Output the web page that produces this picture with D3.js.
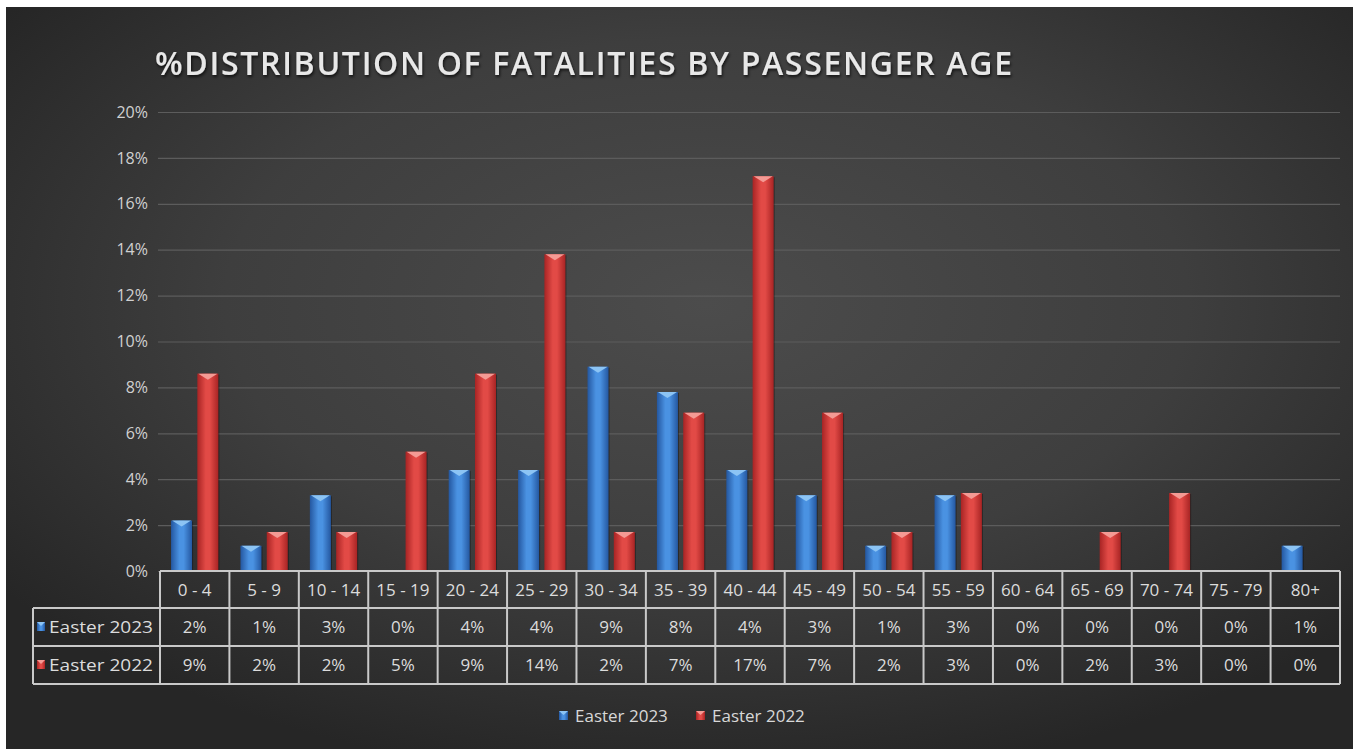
<!DOCTYPE html>
<html>
<head>
<meta charset="utf-8">
<script src="https://cdn.jsdelivr.net/npm/d3@7"></script>
<style>
	body { margin: 0; background: #fff; }
	svg { display: block; }
	text { font-family: "Open Sans", Roboto, sans-serif; }
</style>
</head>
<body>
<svg id="chart"></svg>
<script>
// chart data
const ageGroups = ["0 - 4", "5 - 9", "10 - 14", "15 - 19", "20 - 24", "25 - 29", "30 - 34", "35 - 39",
	"40 - 44", "45 - 49", "50 - 54", "55 - 59", "60 - 64", "65 - 69", "70 - 74", "75 - 79", "80+"];
const seriesNames = ["Easter 2023", "Easter 2022"];
const easter2023 = [2.2, 1.1, 3.3, 0, 4.4, 4.4, 8.9, 7.8, 4.4, 3.3, 1.1, 3.3, 0, 0, 0, 0, 1.1];
const easter2022 = [8.6, 1.7, 1.7, 5.2, 8.6, 13.8, 1.7, 6.9, 17.2, 6.9, 1.7, 3.4, 0, 1.7, 3.4, 0, 0];
const yTicks = [0, 2, 4, 6, 8, 10, 12, 14, 16, 18, 20];
const chartTitle = "%DISTRIBUTION OF FATALITIES BY PASSENGER AGE";

const W = 1357, H = 749;
const plot = { left: 160, right: 1340, top: 112, bottom: 571 };
const rowH = [37, 38, 38];
const palette = {
	"Easter 2023": { edge: "#2457a0", mid: "#4a92e2", cap: "#8cc4f4" },
	"Easter 2022": { edge: "#a82424", mid: "#e24a46", cap: "#f49a94" }
};
const textColor = "#dcdcdc";

const svg = d3.select("#chart").attr("width", W).attr("height", H);
const defs = svg.append("defs");

// background gradient
const bg = defs.append("radialGradient").attr("id", "bg")
	.attr("cx", "52%").attr("cy", "40%").attr("r", "65%");
bg.append("stop").attr("offset", "0%").attr("stop-color", "#4c4c4c");
bg.append("stop").attr("offset", "55%").attr("stop-color", "#3e3e3e");
bg.append("stop").attr("offset", "100%").attr("stop-color", "#262626");

seriesNames.forEach((s, i) => {
	const g = defs.append("linearGradient").attr("id", "bar" + i)
		.attr("x1", "0%").attr("x2", "100%").attr("y1", "0%").attr("y2", "0%");
	g.append("stop").attr("offset", "0%").attr("stop-color", palette[s].edge);
	g.append("stop").attr("offset", "40%").attr("stop-color", palette[s].mid);
	g.append("stop").attr("offset", "60%").attr("stop-color", palette[s].mid);
	g.append("stop").attr("offset", "100%").attr("stop-color", palette[s].edge);
});

const shadow = defs.append("filter").attr("id", "shadow")
	.attr("x", "-5%").attr("y", "-20%").attr("width", "110%").attr("height", "150%");
shadow.append("feDropShadow").attr("dx", 1).attr("dy", 2).attr("stdDeviation", 1.5)
	.attr("flood-color", "#000").attr("flood-opacity", 0.7);

svg.append("rect").attr("x", 6).attr("y", 7).attr("width", W - 10).attr("height", H - 7)
	.attr("fill", "url(#bg)");

// title
svg.append("text")
	.attr("x", 155).attr("y", 75)
	.attr("textLength", 857).attr("lengthAdjust", "spacing")
	.style("font-size", "32px").style("font-weight", 600)
	.style("fill", "#e8e8e8").attr("filter", "url(#shadow)")
	.text(chartTitle);

// scales
const x = d3.scaleBand().domain(ageGroups).range([plot.left, plot.right]);
const x1 = d3.scaleBand().domain(seriesNames).range([0, x.bandwidth()])
	.paddingInner(0.2).paddingOuter(0.42);
const y = d3.scaleLinear().domain([0, 20]).range([plot.bottom, plot.top]);

// y axis + gridlines
const yAxis = svg.append("g")
	.attr("transform", `translate(158,0)`)
	.call(d3.axisLeft(y).tickValues(yTicks).tickSize(-(plot.right - 158)).tickPadding(10)
		.tickFormat(d => d + "%"));
yAxis.select(".domain").remove();
yAxis.selectAll("line").attr("stroke", "#5c5c5c").attr("stroke-width", 1.2);
yAxis.selectAll("text").style("font-size", "16px").style("fill", "#d0d0d0")
	.style("font-family", "'Open Sans', sans-serif");

// bars
const barData = [];
ageGroups.forEach((a, i) => {
	barData.push({ age: a, series: seriesNames[0], idx: 0, value: easter2023[i] });
	barData.push({ age: a, series: seriesNames[1], idx: 1, value: easter2022[i] });
});

const bars = svg.selectAll(".bar")
	.data(barData.filter(d => d.value > 0))
	.enter()
	.append("g")
	.attr("class", "bar")
	.attr("transform", d => `translate(${x(d.age) + x1(d.series)},0)`);

bars.append("rect")
	.attr("x", 1).attr("y", d => y(d.value) + 1)
	.attr("width", x1.bandwidth()).attr("height", d => plot.bottom - y(d.value))
	.attr("fill", "#000").attr("opacity", 0.35);

bars.append("rect")
	.attr("x", 0).attr("y", d => y(d.value))
	.attr("width", x1.bandwidth()).attr("height", d => plot.bottom - y(d.value))
	.attr("fill", d => `url(#bar${d.idx})`);

// lighter chevron cap on top of each bar
bars.append("path")
	.attr("d", d => {
		const w = x1.bandwidth(), t = y(d.value);
		const h = Math.min(6, plot.bottom - t);
		return `M1,${t} L${w - 1},${t} L${w / 2},${t + h} Z`;
	})
	.attr("fill", d => palette[d.series].cap);

// data table
const tableColor = "#c9c9c9";
const tbl = svg.append("g");
const rowY = [plot.bottom, plot.bottom + rowH[0], plot.bottom + rowH[0] + rowH[1],
	plot.bottom + rowH[0] + rowH[1] + rowH[2]];
const legendLeft = 33;

// horizontal lines
tbl.append("line").attr("x1", plot.left).attr("x2", plot.right)
	.attr("y1", rowY[0]).attr("y2", rowY[0]);
[1, 2, 3].forEach(r => {
	tbl.append("line").attr("x1", legendLeft).attr("x2", plot.right)
		.attr("y1", rowY[r]).attr("y2", rowY[r]);
});
// vertical lines
ageGroups.forEach(a => {
	tbl.append("line").attr("x1", x(a)).attr("x2", x(a)).attr("y1", rowY[0]).attr("y2", rowY[3]);
});
tbl.append("line").attr("x1", plot.right).attr("x2", plot.right).attr("y1", rowY[0]).attr("y2", rowY[3]);
tbl.append("line").attr("x1", legendLeft).attr("x2", legendLeft).attr("y1", rowY[1]).attr("y2", rowY[3]);
tbl.selectAll("line").attr("stroke", tableColor).attr("stroke-width", 2);

// header labels
tbl.selectAll(".cat")
	.data(ageGroups)
	.enter()
	.append("text")
	.attr("x", d => x(d) + x.bandwidth() / 2)
	.attr("y", (rowY[0] + rowY[1]) / 2 + 6)
	.attr("text-anchor", "middle")
	.style("font-size", "17px").style("fill", textColor)
	.text(d => d);

// value rows
[easter2023, easter2022].forEach((vals, r) => {
	tbl.selectAll(".val" + r)
		.data(vals)
		.enter()
		.append("text")
		.attr("x", (d, i) => x(ageGroups[i]) + x.bandwidth() / 2)
		.attr("y", (rowY[r + 1] + rowY[r + 2]) / 2 + 6)
		.attr("text-anchor", "middle")
		.style("font-size", "17px").style("fill", textColor)
		.text(d => Math.round(d) + "%");

	const cy = (rowY[r + 1] + rowY[r + 2]) / 2;
	tbl.append("rect").attr("x", 37).attr("y", cy - 5).attr("width", 8).attr("height", 9)
		.attr("fill", `url(#bar${r})`);
	tbl.append("path").attr("d", `M37,${cy - 5} L45,${cy - 5} L41,${cy - 1} Z`)
		.attr("fill", palette[seriesNames[r]].cap);
	tbl.append("text").attr("x", 49).attr("y", cy + 6)
		.attr("textLength", 104).attr("lengthAdjust", "spacingAndGlyphs")
		.style("font-size", "17px").style("fill", textColor)
		.text(seriesNames[r]);
});

// legend
const legend = svg.append("g").attr("transform", "translate(559,716)");
let lx = 0;
seriesNames.forEach((s, i) => {
	const g = legend.append("g").attr("transform", `translate(${lx},0)`);
	g.append("rect").attr("x", 0).attr("y", -5).attr("width", 9).attr("height", 9)
		.attr("fill", `url(#bar${i})`);
	g.append("path").attr("d", "M0,-5 L9,-5 L4.5,-1 Z").attr("fill", palette[s].cap);
	g.append("text").attr("x", 16).attr("y", 6)
		.style("font-size", "17px").style("fill", "#d8d8d8")
		.text(s);
	lx += 137;
});
</script>
</body>
</html>
